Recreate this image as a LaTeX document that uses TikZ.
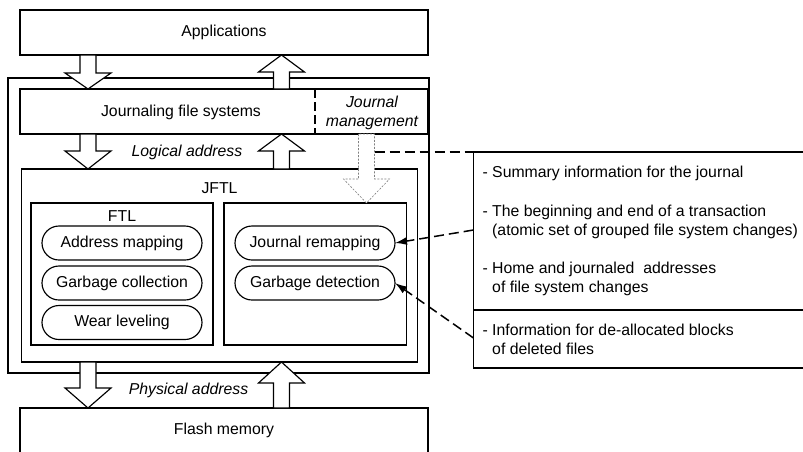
\documentclass[tikz,border=0pt]{standalone}
\usepackage{fontspec}
\setmainfont{Liberation Sans}
\usetikzlibrary{arrows.meta}

% vertical hollow block arrow: [style] {x}{tail y}{head base y}{tip y}
\newcommand\blockarrow[5][]{%
  \draw[blockarr,#1] (#2-8,#3) -- (#2-8,#4) -- (#2-23,#4) -- (#2,#5)
    -- (#2+23,#4) -- (#2+8,#4) -- (#2+8,#3) -- cycle;}

\begin{document}
\begin{tikzpicture}[x=1pt,y=-1pt,line width=1.15pt,
  every node/.style={font=\fontsize{15.8}{19}\selectfont},
  box/.style={draw,rectangle,inner sep=0pt,outer sep=0pt},
  pill/.style={draw,rectangle,rounded corners=17pt,minimum width=160pt,
    minimum height=34pt,inner sep=0pt,outer sep=0pt},
  lbl/.style={inner sep=0pt},
  itl/.style={inner sep=0pt,font=\fontsize{15.8}{19}\selectfont\itshape},
  blockarr/.style={draw,fill=white,line join=miter},
  ghost/.style={draw=gray,fill=white,line width=0.6pt,dash pattern=on 2pt off 1.5pt},
  heavydash/.style={line width=1.5pt,dash pattern=on 10pt off 5pt},
  infoline/.style={lbl,anchor=west,align=left}]

\useasboundingbox (0,0) rectangle (803,451);
\clip (0,0) rectangle (803,451);

% top and bottom layers
\node[box,minimum width=408pt,minimum height=45pt] (app) at (224,32.5) {};
\node[lbl] at (app.center) {Applications};
\node[box,minimum width=408pt,minimum height=62pt] (flash) at (224,439) {};
\node[lbl] at (224,430) {Flash memory};

% storage stack container
\node[box,minimum width=421pt,minimum height=295pt] (outer) at (218.5,225.5) {};

% journaling file system layer
\node[box,minimum width=408pt,minimum height=45pt] (jfs) at (224,111.5) {};
\coordinate (div) at (315,0);
\draw[dash pattern=on 9pt off 4pt] (jfs.north -| div) -- (jfs.south -| div);
\node[lbl] at (181,112) {Journaling file systems};
\node[itl,align=center] (jm) at (372,112.5) {Journal\\management};

% JFTL layer
\node[box,minimum width=396pt,minimum height=193pt] (jftl) at (219.5,265.5) {};
\node[lbl] at (219.5,188) {JFTL};
\node[box,minimum width=182pt,minimum height=142pt] (ftl) at (122,274) {};
\node[lbl] at (122,216) {FTL};
\node[box,minimum width=182.5pt,minimum height=142pt] (jbox) at (315.25,274) {};

\node[pill] (am) at (122,243) {Address mapping};
\node[pill] (gc) at (122,283) {Garbage collection};
\node[pill] (wl) at (122,322.5) {Wear leveling};
\node[pill] (jr) at (315,243) {Journal remapping};
\node[pill] (gd) at (315,283) {Garbage detection};

% address flow arrows
\blockarrow{88}{55}{73}{89}
\blockarrow{281.5}{89}{72}{55}
\blockarrow{88}{134}{151}{169}
\blockarrow{281.5}{169}{151}{134}
\blockarrow{88}{362}{388}{408}
\blockarrow{281.5}{408}{383}{362}
\node[itl] at (187,152) {Logical address};
\node[itl] at (188.5,390) {Physical address};

% journal information passed down to the JFTL
\blockarrow[ghost]{366.5}{134}{179}{203}

% journal information box
\draw (473.5,152) -- (820,152) -- (820,368) -- (473.5,368) -- cycle;
\coordinate (info) at (473.5,152);
\draw[line width=2pt] (473.5,310) -- (803,310);
\node[infoline] at (482,173) {- Summary information for the journal};
\node[infoline] at (482,221.5) {- The beginning and end of a transaction\\\phantom{- }(atomic set of grouped file system changes)};
\node[infoline] at (482,279) {- Home and journaled\ \ addresses\\\phantom{- }of file system changes};
\node[infoline] at (482,339.5) {- Information for de-allocated blocks\\\phantom{- }of deleted files};

% dashed links
\coordinate (c0) at (374.5,152);
\coordinate (s1) at (473.5,230);
\coordinate (s2) at (473.5,338);
\draw[heavydash] (c0) -- (info);
\draw[heavydash,-{Latex[length=12pt,width=8pt]}] (s1) -- (jr.east);
\draw[heavydash,-{Latex[length=12pt,width=8pt]}] (s2) -- (gd.east);
\end{tikzpicture}
\end{document}
